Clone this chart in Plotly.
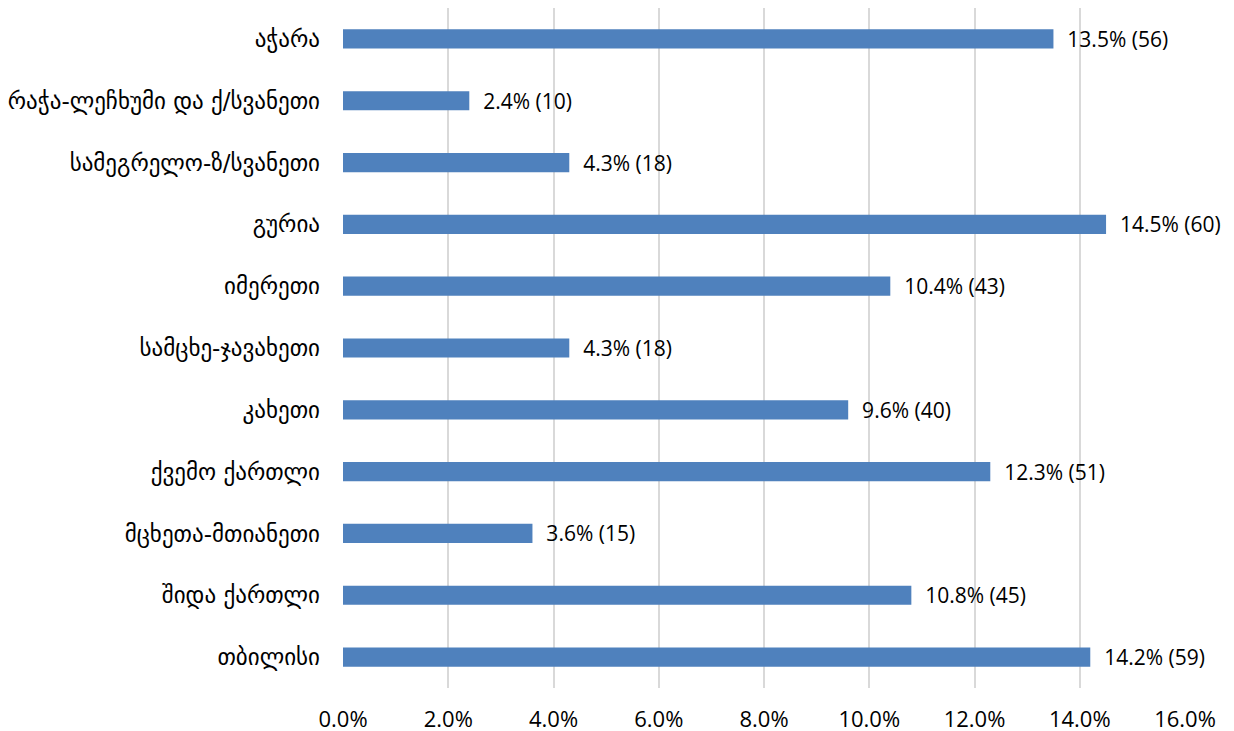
import plotly.graph_objects as go

regions = ["თბილისი", "შიდა ქართლი", "მცხეთა-მთიანეთი", "ქვემო ქართლი", "კახეთი",
           "სამცხე-ჯავახეთი", "იმერეთი", "გურია", "სამეგრელო-ზ/სვანეთი",
           "რაჭა-ლეჩხუმი და ქ/სვანეთი", "აჭარა"]
percent = [14.2, 10.8, 3.6, 12.3, 9.6, 4.3, 10.4, 14.5, 4.3, 2.4, 13.5]
counts = [59, 45, 15, 51, 40, 18, 43, 60, 18, 10, 56]
tick_vals = [0, 2, 4, 6, 8, 10, 12, 14, 16]
tick_text = [f"{v:.1f}%" for v in tick_vals]

labels = [f"  {p:.1f}% ({c})" for p, c in zip(percent, counts)]

font_family = "Open Sans, DejaVu Sans, sans-serif"

fig = go.Figure(go.Bar(
    x=percent, y=regions, orientation="h",
    marker=dict(color="#4F81BD", line=dict(width=0)),
    width=0.31,
    text=labels, textposition="outside", cliponaxis=False,
    constraintext="none",
    textfont=dict(size=21, color="#000000", family=font_family),
))

fig.update_layout(
    width=1234, height=731,
    margin=dict(l=335, r=57, t=0, b=51, autoexpand=False),
    paper_bgcolor="white", plot_bgcolor="white",
    showlegend=False,
    font=dict(family=font_family, size=21, color="#000000"),
    xaxis=dict(range=[0, 16], tickvals=tick_vals, ticktext=tick_text,
               showgrid=True, gridcolor="#D9D9D9", gridwidth=2,
               zeroline=False, showline=False, ticks="",
               tickfont=dict(size=22), ticklabelstandoff=16,
               automargin=False, fixedrange=True),
    yaxis=dict(showgrid=False, zeroline=False, showline=False, ticks="",
               tickfont=dict(size=23, family="DejaVu Sans, sans-serif"),
               ticklabelstandoff=22, automargin=False,
               range=[-0.5, 10.5]),
)

fig.write_html("out.html")
